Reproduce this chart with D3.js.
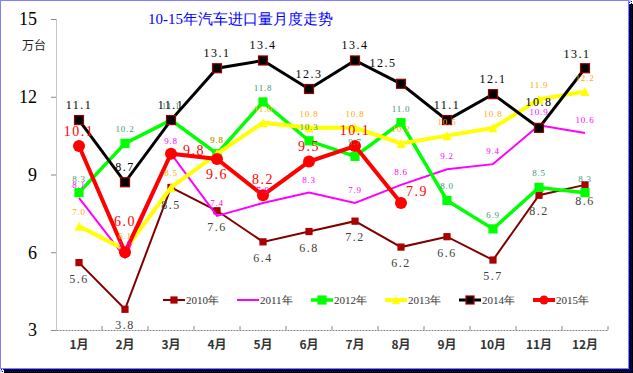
<!DOCTYPE html>
<html>
<head>
<meta charset="utf-8">
<script src="https://cdn.jsdelivr.net/npm/d3@7"></script>
<style>
  body { margin: 0; background: #fff; }
  svg text { font-family: "Liberation Serif", "DejaVu Serif", serif; }
  .cjk { font-family: "Noto Sans CJK SC", sans-serif; }
</style>
</head>
<body>
<svg id="chart" width="633" height="373"></svg>
<script>
// data
const months = ['1月','2月','3月','4月','5月','6月','7月','8月','9月','10月','11月','12月'];
const yTicks = [3, 6, 9, 12, 15];
const years = ['2010年','2011年','2012年','2013年','2014年','2015年'];
const v2010 = [5.6, 3.8, 8.5, 7.6, 6.4, 6.8, 7.2, 6.2, 6.6, 5.7, 8.2, 8.6];
const v2011 = [8.1, 5.8, 9.8, 7.4, 7.9, 8.3, 7.9, 8.6, 9.2, 9.4, 10.9, 10.6];
const v2012 = [8.3, 10.2, 11.1, 9.8, 11.8, 10.3, 9.7, 11.0, 8.0, 6.9, 8.5, 8.3];
const v2013 = [7.0, 6.1, 8.5, 9.8, 11.0, 10.8, 10.8, 10.2, 10.5, 10.8, 11.9, 12.2];
const v2014 = [11.1, 8.7, 11.1, 13.1, 13.4, 12.3, 13.4, 12.5, 11.1, 12.1, 10.8, 13.1];
const v2015 = [10.1, 6.0, 9.8, 9.6, 8.2, 9.5, 10.1, 7.9];

const svg = d3.select('#chart');
const width = +svg.attr('width');
const height = +svg.attr('height');
const margin = {top: 19, right: 25, bottom: 43, left: 56};
const innerWidth = width - margin.left - margin.right;
const innerHeight = height - margin.top - margin.bottom;

// frame: dark shadow on right/bottom, blue dotted border
svg.append('rect').attr('x', 4).attr('y', 4).attr('width', 629).attr('height', 369)
  .attr('fill', '#000');
svg.append('rect').attr('x', 0).attr('y', 0).attr('width', 629).attr('height', 369)
  .attr('fill', '#fff');
svg.append('rect').attr('x', 0.5).attr('y', 0.5).attr('width', 628).attr('height', 368)
  .attr('fill', 'none').attr('stroke', '#0000ff').attr('stroke-dasharray', '1,1');
svg.append('rect').attr('x', 629.5).attr('y', 1).attr('width', 2).attr('height', 370)
  .attr('fill', 'none').attr('stroke', '#0000cc').attr('stroke-dasharray', '1,1');
svg.append('rect').attr('x', 1).attr('y', 369.5).attr('width', 630).attr('height', 2)
  .attr('fill', 'none').attr('stroke', '#0000cc').attr('stroke-dasharray', '1,1');

const chart = svg.append('g')
  .attr('transform', `translate(${margin.left},${margin.top})`);

// scales
const xBand = d3.scaleBand().domain(months).range([0, innerWidth]);
const x = d => xBand(d) + xBand.bandwidth() / 2;
const yScale = d3.scaleLinear().domain([3, 15]).range([innerHeight, 0]);

// axes
const yAxis = d3.axisLeft(yScale).tickValues(yTicks).tickSize(5).tickPadding(14).tickSizeOuter(0);
const yAxisG = chart.append('g').call(yAxis);
yAxisG.select('.domain').attr('stroke', '#888').attr('stroke-dasharray', '1,1');
yAxisG.selectAll('.tick line').attr('stroke', '#888');
yAxisG.selectAll('.tick text').attr('font-size', 18).attr('fill', '#000')
  .attr('font-family', '"Liberation Serif", serif');

const xAxis = d3.axisBottom(xBand).tickSize(0).tickPadding(10);
const xAxisG = chart.append('g').attr('transform', `translate(0,${innerHeight})`).call(xAxis);
xAxisG.select('.domain').attr('stroke', '#888').attr('stroke-dasharray', '2,1');
xAxisG.selectAll('.tick text').attr('class', 'cjk').attr('font-size', 12)
  .attr('font-weight', 'bold').attr('fill', '#333')
  .attr('font-family', '"Noto Sans CJK SC", sans-serif');
// boundary ticks
chart.append('g').selectAll('line').data(months).enter().append('line')
  .attr('x1', d => xBand(d) + xBand.bandwidth()).attr('x2', d => xBand(d) + xBand.bandwidth())
  .attr('y1', innerHeight).attr('y2', innerHeight - 4)
  .attr('stroke', '#888');

// axis unit and title
svg.append('text').attr('class', 'cjk').attr('x', 22).attr('y', 50)
  .attr('font-size', 12).attr('fill', '#222')
  .attr('font-family', '"Noto Sans CJK SC", sans-serif').text('万台');
svg.append('text').attr('x', 148).attr('y', 24)
  .attr('font-size', 15).attr('fill', '#0000ff')
  .attr('font-family', '"Noto Sans CJK SC", sans-serif').text('10-15年汽车进口量月度走势');

// series definitions
const series = [
  {name: years[0], values: v2010, color: '#800000', width: 2, marker: 'square', size: 6,
   mFill: '#aa0000', mStroke: '#aa0000', lColor: '#404040', lSize: 12, dy: 20},
  {name: years[1], values: v2011, color: '#ff00ff', width: 2, marker: 'none',
   lColor: '#ff00ff', lSize: 9, dy: -10},
  {name: years[2], values: v2012, color: '#00ff00', width: 3.5, marker: 'square', size: 8,
   mFill: '#00ff00', mStroke: '#00ff00', lColor: '#3a9a7a', lSize: 9, dy: -11},
  {name: years[3], values: v2013, color: '#ffff00', width: 4, marker: 'triangle', size: 9,
   mFill: '#ffff00', mStroke: '#ffff00', lColor: '#ffaa00', lSize: 9, dy: -11},
  {name: years[4], values: v2014, color: '#000000', width: 3, marker: 'square', size: 9,
   mFill: '#000', mStroke: '#990000', lColor: '#000', lSize: 12, dy: -11},
  {name: years[5], values: v2015, color: '#ff0000', width: 4, marker: 'circle', size: 6,
   mFill: '#ff0000', mStroke: '#ff0000', lColor: '#ff0000', lSize: 14, dy: -11}
];

// label nudges where the original moved them to avoid overlaps
const nudges = {
  '2015年-1': [0, -26], '2015年-2': [23, 1], '2015年-3': [0, 20], '2015年-0': [0, -10],
  '2015年-7': [16, -7],
  '2014年-7': [-18, -17], '2014年-10': [0, -22], '2014年-11': [-8, -10],
  '2010年-2': [0, 22]
};

const line = d3.line().x((d, i) => x(months[i])).y(d => yScale(d));

const drawMarker = (g, s, cx, cy) => {
  if (s.marker === 'square') {
    g.append('rect').attr('x', cx - s.size / 2).attr('y', cy - s.size / 2)
      .attr('width', s.size).attr('height', s.size)
      .attr('fill', s.mFill).attr('stroke', s.mStroke).attr('stroke-width', 1.2);
  } else if (s.marker === 'triangle') {
    const h = s.size;
    g.append('path')
      .attr('d', `M${cx},${cy - h / 2}L${cx + h / 2},${cy + h / 2}L${cx - h / 2},${cy + h / 2}Z`)
      .attr('fill', s.mFill);
  } else if (s.marker === 'circle') {
    g.append('circle').attr('cx', cx).attr('cy', cy).attr('r', s.size).attr('fill', s.mFill);
  }
};

series.forEach(s => {
  const g = chart.append('g');
  g.append('path').datum(s.values).attr('d', line)
    .attr('fill', 'none').attr('stroke', s.color).attr('stroke-width', s.width)
    .attr('stroke-linejoin', 'miter');
  s.values.forEach((v, i) => drawMarker(g, s, x(months[i]), yScale(v)));
});

// labels on top
series.forEach(s => {
  chart.append('g').selectAll('text').data(s.values).enter().append('text')
    .attr('x', (d, i) => x(months[i]) + (nudges[`${s.name}-${i}`] || [0, s.dy])[0])
    .attr('y', (d, i) => yScale(d) + (nudges[`${s.name}-${i}`] || [0, s.dy])[1])
    .attr('text-anchor', 'middle')
    .attr('font-size', s.lSize)
    .attr('letter-spacing', s.lSize >= 12 ? 1.5 : 0.8)
    .attr('fill', s.lColor)
    .text(d => d.toFixed(1));
});

// legend
const legend = svg.append('g').attr('transform', 'translate(163,300)');
series.forEach((s, i) => {
  const item = legend.append('g').attr('transform', `translate(${i * 74},0)`);
  item.append('line').attr('x1', 0).attr('x2', 22).attr('y1', 0).attr('y2', 0)
    .attr('stroke', s.color).attr('stroke-width', s.width);
  drawMarker(item, Object.assign({}, s, {size: s.marker === 'circle' ? 4.5 : Math.min(s.size, 8)}), 11, 0);
  item.append('text').attr('x', 23).attr('y', 4).attr('font-size', 11).attr('fill', '#333')
    .attr('font-family', '"Liberation Sans", sans-serif').text(s.name);
});
</script>
</body>
</html>
